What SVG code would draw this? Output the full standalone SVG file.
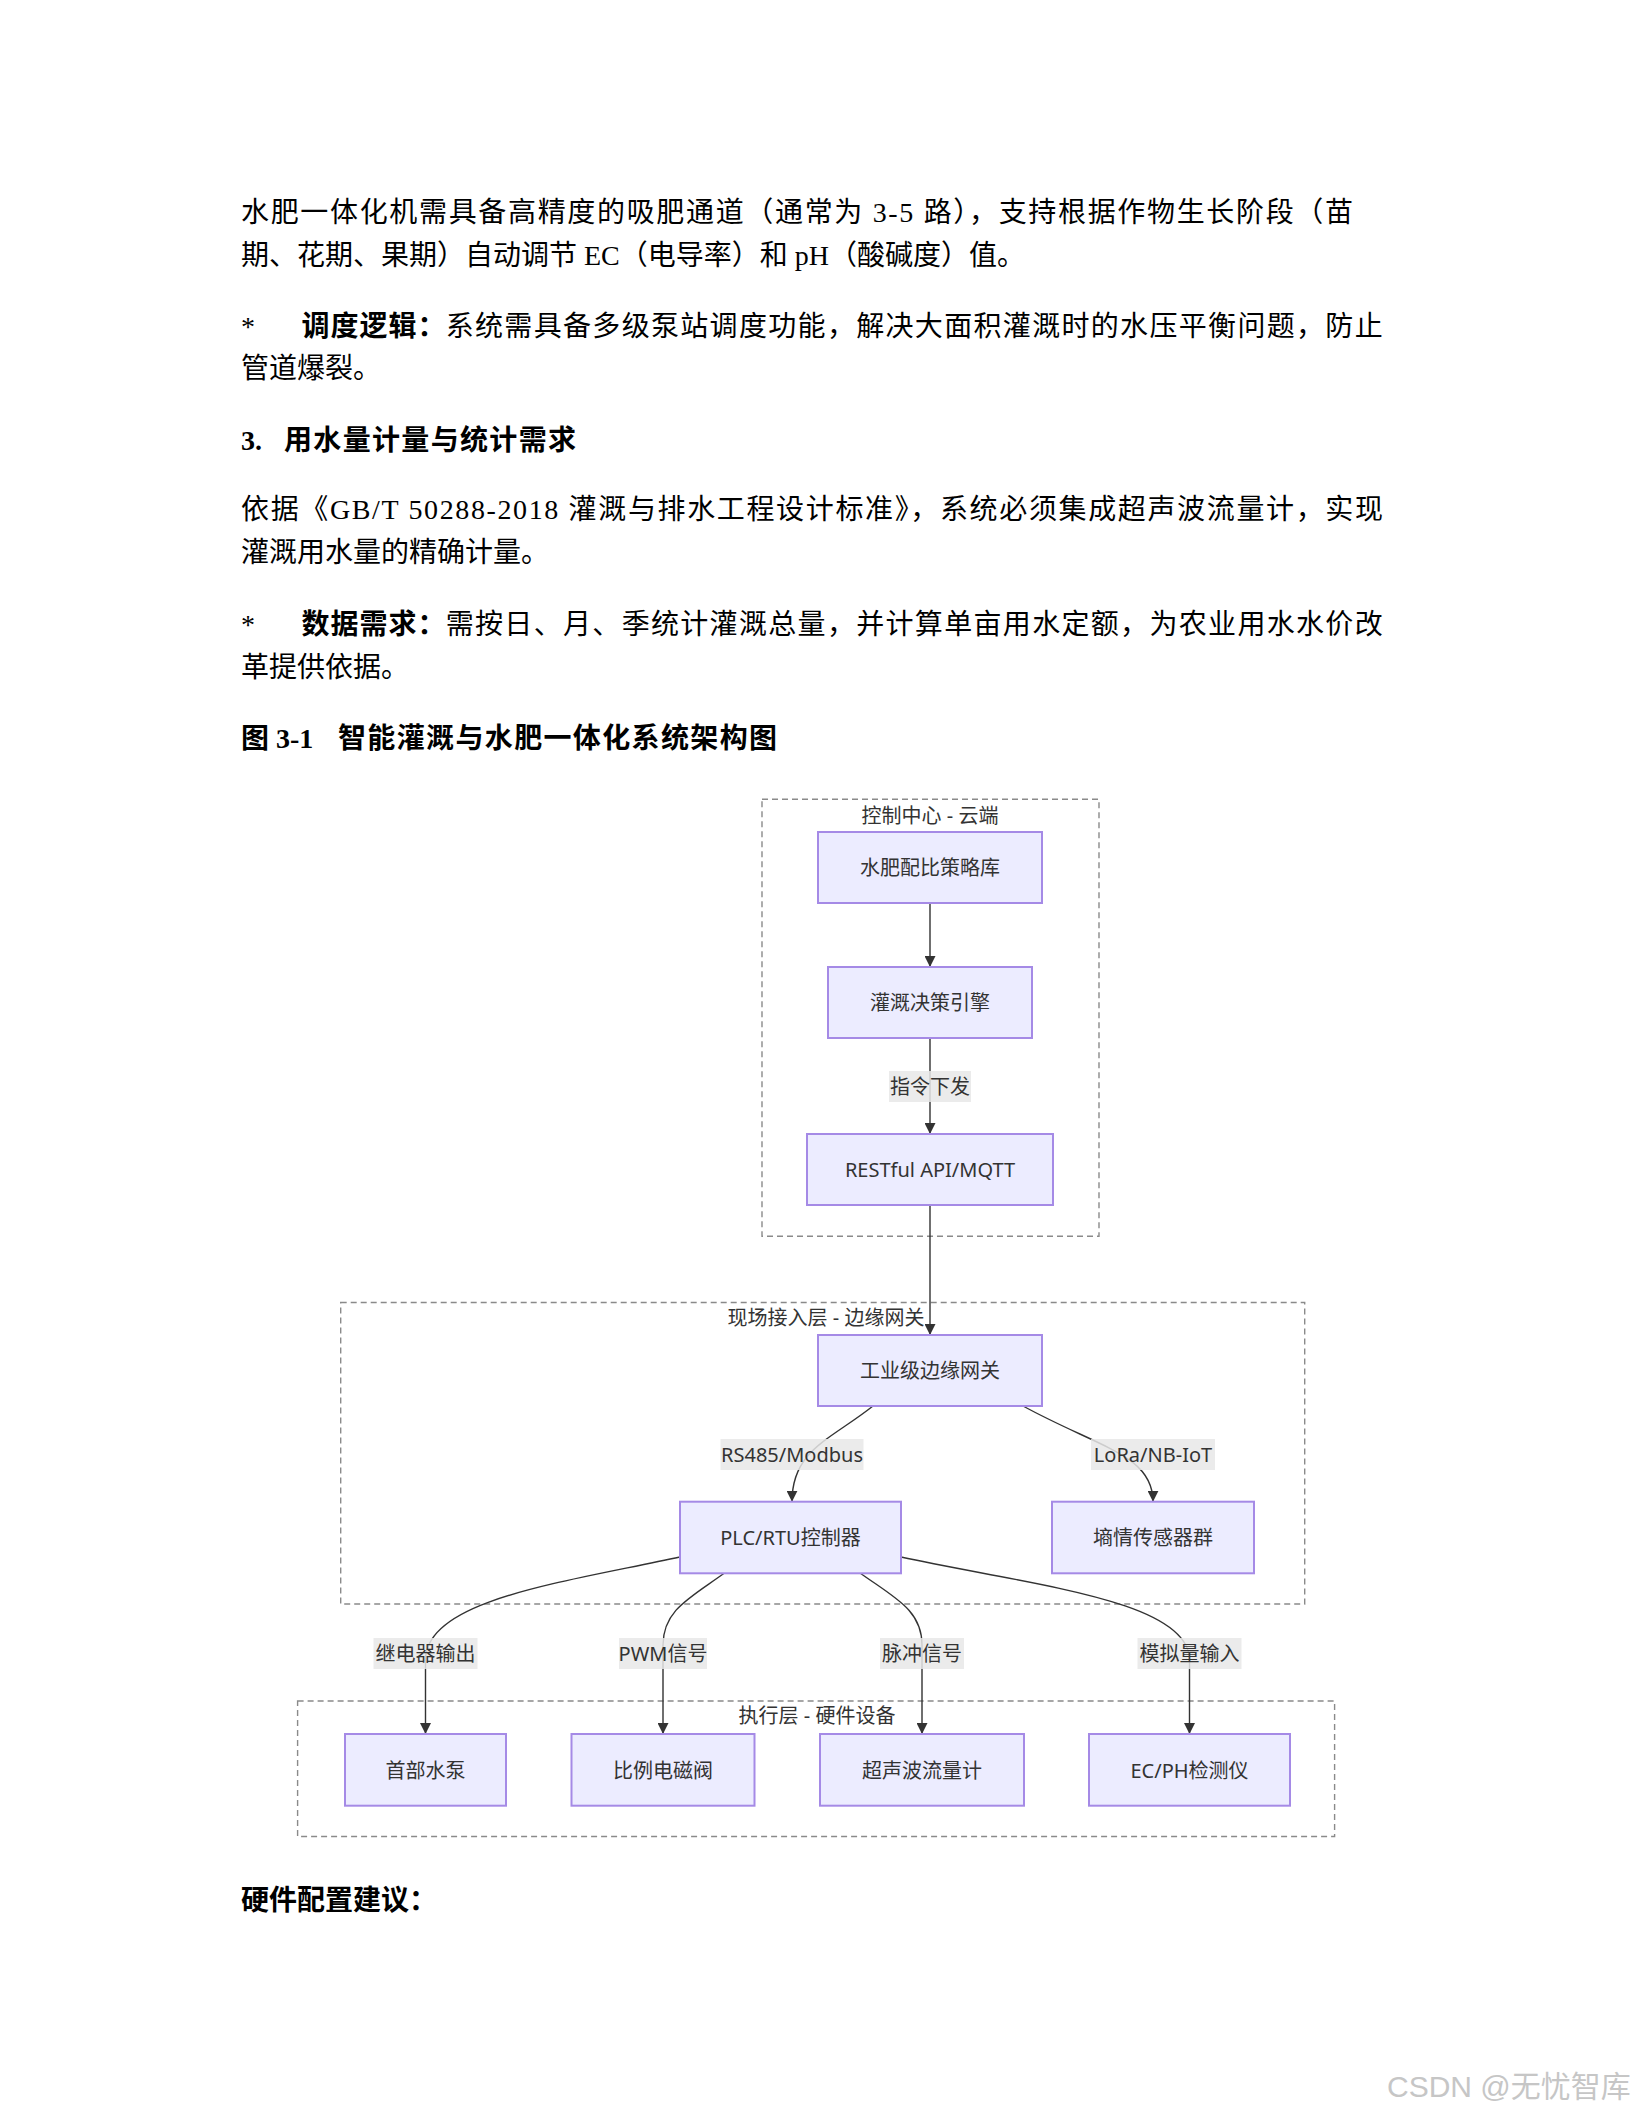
<svg xmlns="http://www.w3.org/2000/svg" width="1632" height="2112" viewBox="0 0 1632 2112">
<style>
.p{font-family:"Liberation Serif","Noto Sans CJK SC",serif;font-size:28px;fill:#000}
.b{font-weight:bold}
.cl{fill:none;stroke:#8a8a8a;stroke-width:1.4;stroke-dasharray:6 4}
.ct{font-family:"Noto Sans","Noto Sans CJK SC",sans-serif;font-size:20px;fill:#333;text-anchor:middle;dominant-baseline:central}
.nd rect{fill:#ECECFF;stroke:#a58ae6;stroke-width:2}
.nd text{font-family:"Noto Sans","Noto Sans CJK SC",sans-serif;font-size:20px;fill:#333;text-anchor:middle;dominant-baseline:central}
.e{fill:none;stroke:#333;stroke-width:1.4;marker-end:url(#arr)}
.lb rect{fill:rgba(232,232,232,0.85)}
.lb text{font-family:"Noto Sans","Noto Sans CJK SC",sans-serif;font-size:20px;fill:#333;text-anchor:middle;dominant-baseline:central}
</style>
<defs>
<marker id="arr" viewBox="0 0 10 10" refX="10" refY="5" markerWidth="11" markerHeight="11" markerUnits="userSpaceOnUse" orient="auto"><path d="M0,0 L10,5 L0,10 z" fill="#333"/></marker>
</defs>
<rect width="1632" height="2112" fill="#fff"/>

<g id="body-text">
<text class="p" x="241" y="221.5" textLength="1112" lengthAdjust="spacing">水肥一体化机需具备高精度的吸肥通道（通常为 3-5 路），支持根据作物生长阶段（苗</text>
<text class="p" x="241" y="264.5">期、花期、果期）自动调节 EC（电导率）和 pH（酸碱度）值。</text>
<text class="p" x="241" y="336">*</text>
<text class="p b" x="301.6" y="336" textLength="144" lengthAdjust="spacing">调度逻辑：</text>
<text class="p" x="445.7" y="336" textLength="937" lengthAdjust="spacing">系统需具备多级泵站调度功能，解决大面积灌溉时的水压平衡问题，防止</text>
<text class="p" x="241" y="377.5">管道爆裂。</text>
<text class="p b" x="241" y="450">3.</text>
<text class="p b" x="284" y="450" textLength="292" lengthAdjust="spacing">用水量计量与统计需求</text>
<text class="p" x="241" y="519" textLength="1142" lengthAdjust="spacing">依据《GB/T 50288-2018 灌溉与排水工程设计标准》，系统必须集成超声波流量计，实现</text>
<text class="p" x="241" y="562">灌溉用水量的精确计量。</text>
<text class="p" x="241" y="633.5">*</text>
<text class="p b" x="301.6" y="633.5" textLength="144" lengthAdjust="spacing">数据需求：</text>
<text class="p" x="445.7" y="633.5" textLength="937" lengthAdjust="spacing">需按日、月、季统计灌溉总量，并计算单亩用水定额，为农业用水水价改</text>
<text class="p" x="241" y="676.5">革提供依据。</text>
<text class="p b" x="241" y="748">图</text>
<text class="p b" x="276" y="748">3-1</text>
<text class="p b" x="338" y="748" textLength="439" lengthAdjust="spacing">智能灌溉与水肥一体化系统架构图</text>
<text class="p b" x="241" y="1910">硬件配置建议：</text>
<text x="1387" y="2097" font-family="'Liberation Sans','Noto Sans CJK SC',sans-serif" font-size="30" fill="#c6c6c6">CSDN @无忧智库</text>
</g>

<g id="clusters">
<g id="cluster-cloud"><rect class="cl" x="762" y="799.3" width="337" height="437"/><text class="ct" x="930" y="815">控制中心 - 云端</text></g>
<g id="cluster-edge"><rect class="cl" x="340.7" y="1302.5" width="964" height="301.5"/><text class="ct" x="826" y="1317">现场接入层 - 边缘网关</text></g>
<g id="cluster-exec"><rect class="cl" x="297.6" y="1701" width="1037" height="135.5"/><text class="ct" x="817" y="1715.6">执行层 - 硬件设备</text></g>
</g>

<g id="connectors">
<path class="e" d="M930,903 L930,967"/>
<path class="e" d="M930,1038 L930,1134"/>
<path class="e" d="M930,1205 L930,1335"/>
<path class="e" d="M873,1406 C830,1440 792,1450 792,1501.7"/>
<path class="e" d="M1023,1406 C1100,1448 1153,1455 1153,1501.7"/>
<path class="e" d="M680,1557 C560,1583 425.5,1600 425.5,1660 L425.5,1734"/>
<path class="e" d="M724.5,1573 C690,1598 663,1610 663,1645 L663,1734"/>
<path class="e" d="M860,1573 C895,1598 922,1610 922,1645 L922,1734"/>
<path class="e" d="M901,1557 C1030,1585 1189.5,1600 1189.5,1660 L1189.5,1734"/>
<g class="lb">
<rect x="889" y="1071" width="82" height="31"/><text x="930" y="1086.5">指令下发</text>
<rect x="720.5" y="1439" width="143" height="31"/><text x="792" y="1454.5">RS485/Modbus</text>
<rect x="1091" y="1439" width="124" height="31"/><text x="1153" y="1454.5">LoRa/NB-IoT</text>
<rect x="373.5" y="1638" width="104" height="31"/><text x="425.5" y="1653.5">继电器输出</text>
<rect x="619" y="1638" width="88" height="31"/><text x="663" y="1653.5">PWM信号</text>
<rect x="880" y="1638" width="84" height="31"/><text x="922" y="1653.5">脉冲信号</text>
<rect x="1137.5" y="1638" width="104" height="31"/><text x="1189.5" y="1653.5">模拟量输入</text>
</g>
</g>

<g id="nodes">
<g id="node-strategy" class="nd"><rect x="818" y="832" width="224" height="71"/><text x="930" y="867.5">水肥配比策略库</text></g>
<g id="node-engine" class="nd"><rect x="828" y="967" width="204" height="71"/><text x="930" y="1002.5">灌溉决策引擎</text></g>
<g id="node-api" class="nd"><rect x="807" y="1134" width="246" height="71"/><text x="930" y="1169.5">RESTful API/MQTT</text></g>
<g id="node-gateway" class="nd"><rect x="818" y="1335" width="224" height="71"/><text x="930" y="1370.5">工业级边缘网关</text></g>
<g id="node-plc" class="nd"><rect x="680" y="1501.7" width="221" height="71.6"/><text x="790.5" y="1537.5">PLC/RTU控制器</text></g>
<g id="node-sensor" class="nd"><rect x="1052" y="1501.7" width="202" height="71.6"/><text x="1153" y="1537.5">墒情传感器群</text></g>
<g id="node-pump" class="nd"><rect x="345" y="1734" width="161" height="71.7"/><text x="425.5" y="1770">首部水泵</text></g>
<g id="node-valve" class="nd"><rect x="571.5" y="1734" width="183" height="71.7"/><text x="663" y="1770">比例电磁阀</text></g>
<g id="node-meter" class="nd"><rect x="820" y="1734" width="204" height="71.7"/><text x="922" y="1770">超声波流量计</text></g>
<g id="node-ecph" class="nd"><rect x="1089" y="1734" width="201" height="71.7"/><text x="1189.5" y="1770">EC/PH检测仪</text></g>
</g>
</svg>
